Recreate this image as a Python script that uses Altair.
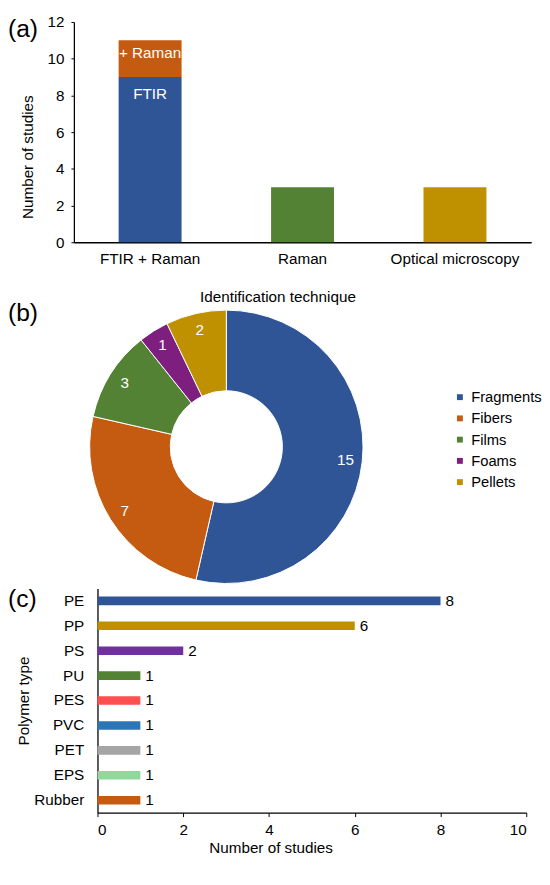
import altair as alt
import pandas as pd

FONT = "Liberation Sans"
FS = 15.5

# ---------------- data ----------------
# (a) identification technique
tech_categories = ["FTIR + Raman", "FTIR + Raman", "Raman", "Optical microscopy"]
tech_parts = ["FTIR", "+ Raman", "Raman", "Optical microscopy"]
tech_counts = [9, 2, 3, 3]
tech_order = [0, 1, 0, 0]
tech_axis_order = ["FTIR + Raman", "Raman", "Optical microscopy"]
tech_colors = ["#2F5597", "#C55A11", "#548235", "#BF9000"]
tech_ticks = [0, 2, 4, 6, 8, 10, 12]

# (b) shapes
shape_names = ["Fragments", "Fibers", "Films", "Foams", "Pellets"]
shape_counts = [15, 7, 3, 1, 2]
shape_colors = ["#2F5597", "#C55A11", "#548235", "#7E1E7E", "#BF9000"]

# (c) polymer types
polymer_names = ["PE", "PP", "PS", "PU", "PES", "PVC", "PET", "EPS", "Rubber"]
polymer_counts = [8, 6, 2, 1, 1, 1, 1, 1, 1]
polymer_colors = ["#2F5597", "#BF9000", "#7030A0", "#548235", "#FF5050",
                  "#2E75B6", "#A5A5A5", "#8ED99B", "#C55A11"]
polymer_ticks = [0, 2, 4, 6, 8, 10]

panel_labels = ["(a)", "(b)", "(c)"]

# ---------------- (a) bars ----------------
dfa = pd.DataFrame({"technique": tech_categories, "part": tech_parts,
                    "count": tech_counts, "idx": tech_order})
dfa["end"] = dfa.groupby("technique")["count"].cumsum()

xa = alt.X("technique:N", sort=tech_axis_order,
           scale=alt.Scale(paddingInner=0.587, paddingOuter=0.2935),
           axis=alt.Axis(title="Identification technique", labelAngle=0, ticks=False,
                         labelPadding=10, titleX=207, titleY=55, titleAlign="center",
                         titleBaseline="middle"))
ya_axis = alt.Axis(title="Number of studies", values=tech_ticks, grid=False, tickSize=3,
                   labelPadding=7, titlePadding=12, titleY=137)

bars_a = alt.Chart(dfa).mark_bar().encode(
    x=xa,
    y=alt.Y("count:Q", stack="zero", scale=alt.Scale(domain=[0, 12]), axis=ya_axis),
    color=alt.Color("part:N", scale=alt.Scale(domain=tech_parts, range=tech_colors), legend=None),
    order=alt.Order("idx:Q"),
)
seg_lab = dfa[dfa["technique"] == "FTIR + Raman"]
text_a1 = alt.Chart(seg_lab[seg_lab["idx"] == 0]).mark_text(
    color="white", fontSize=FS, baseline="middle", dy=17
).encode(x=alt.X("technique:N", sort=tech_axis_order), y=alt.Y("end:Q", axis=ya_axis),
         text="part:N")
text_a2 = alt.Chart(seg_lab[seg_lab["idx"] == 1]).mark_text(
    color="white", fontSize=FS, baseline="middle", dy=13
).encode(x=alt.X("technique:N", sort=tech_axis_order), y=alt.Y("end:Q", axis=ya_axis),
         text="part:N")
lab_a = alt.Chart(pd.DataFrame({"t": [panel_labels[0]]})).mark_text(
    align="left", baseline="middle", fontSize=25
).encode(text="t:N", x=alt.value(-67), y=alt.value(7))

# ---------------- (b) donut (drawn below panel a, same chart) ----------------
dfb = pd.DataFrame({"shape": shape_names, "count": shape_counts,
                    "idx": list(range(len(shape_names)))})
base_b = alt.Chart(dfb).encode(
    theta=alt.Theta("count:Q", stack=True),
    order=alt.Order("idx:Q"),
    x=alt.value(155),
    y=alt.value(432),
)
arc_b = base_b.mark_arc(outerRadius=139, innerRadius=57, stroke="white", strokeWidth=1).encode(
    color=alt.Color("shape:N", scale=alt.Scale(domain=shape_names, range=shape_colors),
                    legend=alt.Legend(title=None, orient="none", legendX=385, legendY=374,
                                      labelFontSize=15, symbolType="square", symbolSize=36,
                                      rowPadding=5.6, labelOffset=4, padding=0,
                                      symbolStrokeWidth=0, labelColor="black"))
)
txt_b = base_b.mark_text(radius=122, color="white", fontSize=FS).encode(text="count:Q")
lab_b = alt.Chart(pd.DataFrame({"t": [panel_labels[1]]})).mark_text(
    align="left", baseline="middle", fontSize=25
).encode(text="t:N", x=alt.value(-67), y=alt.value(296))

chart_ab = alt.layer(bars_a, text_a1, text_a2, lab_a, arc_b, txt_b, lab_b).resolve_scale(
    color="independent"
).properties(width=465, height=224)

# ---------------- (c) ----------------
dfc = pd.DataFrame({"polymer": polymer_names, "count": polymer_counts})
yc = alt.Y("polymer:N", sort=polymer_names,
           scale=alt.Scale(paddingInner=0.655, paddingOuter=0.3275),
           axis=alt.Axis(title="Polymer type", ticks=False, labelPadding=14, titlePadding=2,
                         offset=-24))
xc = alt.X("count:Q", scale=alt.Scale(domain=[0, 10], range=[24, 460]),
           axis=alt.Axis(title="Number of studies", values=polymer_ticks, grid=False,
                         tickSize=4, labelPadding=6, titleX=200, titleY=36,
                         titleAlign="center", titleBaseline="middle"))
bars_c = alt.Chart(dfc).mark_bar().encode(
    x=xc, y=yc,
    color=alt.Color("polymer:N", scale=alt.Scale(domain=polymer_names, range=polymer_colors),
                    legend=None),
)
vals_c = alt.Chart(dfc).mark_text(align="left", dx=5, fontSize=FS, color="black").encode(
    x=xc, y=yc, text="count:Q"
)
lab_c = alt.Chart(pd.DataFrame({"t": [panel_labels[2]]})).mark_text(
    align="left", baseline="middle", fontSize=25
).encode(text="t:N", x=alt.value(-67), y=alt.value(10.5))

chart_c = alt.layer(bars_c, vals_c, lab_c).properties(width=460, height=228)

# ---------------- compose ----------------
chart = alt.vconcat(chart_ab, chart_c, spacing=1).resolve_scale(
    color="independent"
).properties(
    padding={"left": 0, "top": 0, "right": 0, "bottom": 0}
).configure_view(strokeWidth=0).configure_axis(
    labelFont=FONT, titleFont=FONT, labelFontSize=FS, titleFontSize=FS,
    labelColor="black", titleColor="black", titleFontWeight="normal",
    domainColor="black", tickColor="black", domainWidth=1.3
).configure_text(font=FONT).configure_legend(labelFont=FONT)

chart.save("out.html", embed_options={"renderer": "svg", "actions": False})
